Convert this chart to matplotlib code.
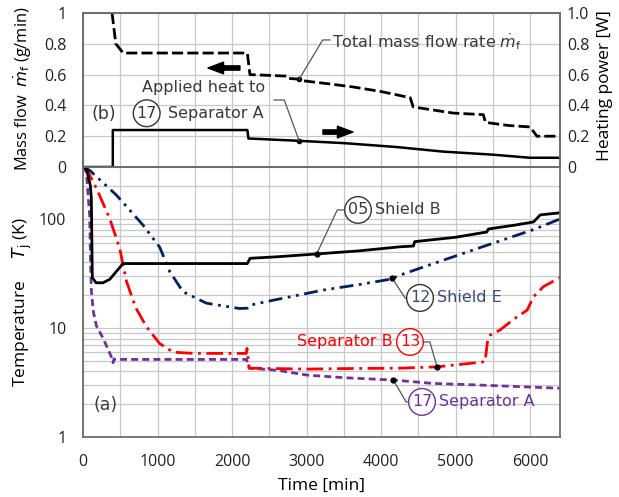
import numpy as np
import matplotlib.pyplot as plt
from matplotlib.ticker import MultipleLocator, FixedLocator, NullFormatter, LogLocator

plt.rcParams['font.family'] = 'DejaVu Sans'

# ---- data ----
# (b) total mass flow rate [g/min]
t_flow = [390, 440, 540, 2205, 2240, 2740, 2760, 2910, 2950, 3300, 3620, 4000, 4390, 4430,
          4700, 4970, 5370, 5400, 5700, 6000, 6090, 6400]
flow = [1.0, 0.80, 0.74, 0.74, 0.60, 0.59, 0.575, 0.57, 0.56, 0.54, 0.52, 0.49, 0.45, 0.39,
        0.37, 0.35, 0.34, 0.29, 0.27, 0.26, 0.20, 0.20]

# (b) heating power applied to separator A [W]
t_heat = [0, 400, 400, 2205, 2220, 2900, 3500, 4200, 4830, 5500, 6000, 6400]
heat = [0, 0, 0.24, 0.24, 0.185, 0.17, 0.155, 0.13, 0.10, 0.08, 0.06, 0.06]

# (a) temperatures [K]
t_05 = [0, 45, 98, 112, 125, 175, 268, 360, 447, 537, 2205, 2241, 2600, 3136, 3700, 4255,
        4434, 4450, 5000, 5418, 5440, 5800, 6045, 6134, 6400]
T_05 = [300, 290, 204, 154, 29, 26, 26, 28, 33, 39, 39, 43.6, 45, 47.8, 51, 55.6,
        56.5, 62, 68, 76, 81, 88, 94, 109, 114]

t_12 = [0, 89, 447, 805, 1030, 1163, 1342, 1655, 2100, 2205, 2241, 2555, 3226, 3700, 4121,
        4255, 4702, 5373, 6045, 6400]
T_12 = [300, 280, 166, 88, 55, 33, 21.5, 16.9, 15.1, 15.2, 16.2, 18, 22.3, 25, 28,
        30.6, 39, 56, 80, 100]

t_13 = [0, 45, 179, 358, 492, 582, 671, 716, 850, 1029, 1208, 1477, 2192, 2200, 2230, 3000,
        3600, 4255, 4748, 5396, 5410, 5430, 5463, 5597, 5776, 5960, 6045, 6179, 6400]
T_13 = [300, 290, 192, 101, 54, 27, 18, 15, 10.3, 7.2, 6.0, 5.85, 5.85, 6.5, 4.28, 4.2,
        4.25, 4.28, 4.4, 4.9, 6.0, 7.8, 8.6, 9.6, 12, 14.6, 19.4, 24, 29]

t_17 = [0, 45, 89, 100, 112, 140, 179, 268, 380, 403, 415, 440, 2192, 2230, 2600, 3003,
        3500, 4165, 4702, 5300, 6400]
T_17 = [300, 270, 108, 45, 22, 14, 10.5, 8.1, 5.45, 4.8, 5.2, 5.15, 5.15, 4.28, 4.1, 3.7,
        3.5, 3.33, 3.1, 3.0, 2.8]

navy = '#002060'
red = '#ff0000'
purple = '#7030a0'
grid_c = '#c8c8c8'
spine_c = '#6e6e6e'
txt_c = '#3a3a3a'

fig = plt.figure(figsize=(6.19, 4.97), dpi=100)
x0, x1 = 83 / 619, 560 / 619
ax_b = fig.add_axes([x0, 1 - 167 / 497, x1 - x0, (167 - 13) / 497])
ax_a = fig.add_axes([x0, 1 - 437 / 497, x1 - x0, (437 - 167) / 497])
ax_q = ax_b.twinx()

for ax in (ax_a, ax_b, ax_q):
    ax.set_xlim(0, 6400)
    ax.xaxis.set_major_locator(MultipleLocator(1000))
    ax.xaxis.set_minor_locator(MultipleLocator(500))
    ax.tick_params(which='both', length=0, labelsize=11.5, labelfontfamily='Open Sans',
                   labelcolor='#222222')
    for s in ax.spines.values():
        s.set_color(spine_c)
        s.set_linewidth(1.3)
for ax in (ax_a, ax_b):
    ax.grid(True, which='both', axis='x', color=grid_c, lw=0.9)
    ax.set_axisbelow(True)

# ---- (b) mass flow and heating power ----
ax_b.set_ylim(0, 1)
ax_b.set_yticks([0, 0.2, 0.4, 0.6, 0.8, 1.0])
ax_b.set_yticklabels(['0', '0.2', '0.4', '0.6', '0.8', '1'])
ax_b.grid(True, axis='y', color=grid_c, lw=0.9)
ax_b.tick_params(axis='x', labelbottom=False)
ax_b.tick_params(axis='y', pad=12)
ax_b.plot(t_flow, flow, color='black', lw=2, ls=(0, (4, 1.5)))

ax_q.set_ylim(0, 1)
ax_q.set_yticks([0, 0.2, 0.4, 0.6, 0.8, 1.0])
ax_q.set_yticklabels(['0', '0.2', '0.4', '0.6', '0.8', '1.0'])
ax_q.tick_params(axis='y', pad=5)
ax_q.plot(t_heat, heat, color='black', lw=1.8)

ax_b.set_ylabel(r'Mass flow  $\dot{m}_\mathrm{f}$ (g/min)', fontsize=11.8, family='Open Sans')
ax_b.yaxis.set_label_coords(-0.103, 0.51)
ax_q.set_ylabel('Heating power [W]', fontsize=12.5, family='Open Sans', rotation=90)
ax_q.yaxis.set_label_coords(1.078, 0.53)

ax_b.text(0.044, 0.344, '(b)', transform=ax_b.transAxes, fontsize=12.5,
          ha='center', va='center', color=txt_c)
ax_q.text(0.124, 0.513, 'Applied heat to', transform=ax_q.transAxes, fontsize=11.5,
          ha='left', va='center', color=txt_c)
ax_q.text(0.1335, 0.349, '17', transform=ax_q.transAxes, fontsize=11.5, ha='center',
          va='center', color=txt_c,
          bbox=dict(boxstyle='circle,pad=0.2', fc='white', ec='#333333', lw=1))
ax_q.text(0.178, 0.349, 'Separator A', transform=ax_q.transAxes, fontsize=11.5,
          ha='left', va='center', color=txt_c)
ax_q.text(0.522, 0.815, r'Total mass flow rate $\dot{m}_\mathrm{f}$', transform=ax_q.transAxes,
          fontsize=11.5, ha='left', va='center', color=txt_c)

# leaders in the top panel
t_pt = 2900
q_pt = np.interp(t_pt, t_heat, heat)
f_pt = np.interp(t_pt, t_flow, flow)
ax_q.plot([t_pt], [q_pt], 'o', color='black', ms=3)
ax_q.plot([t_pt], [f_pt], 'o', color='black', ms=3)
ax_q.annotate('', xy=(t_pt, q_pt), xycoords='data', xytext=(0.40, 0.435),
              textcoords='axes fraction',
              arrowprops=dict(arrowstyle='-', color='#555555', lw=0.9, shrinkA=0, shrinkB=0,
                              connectionstyle='angle,angleA=0,angleB=110,rad=0'))
ax_q.annotate('', xy=(t_pt, f_pt), xycoords='data', xytext=(0.518, 0.825),
              textcoords='axes fraction',
              arrowprops=dict(arrowstyle='-', color='#555555', lw=0.9, shrinkA=0, shrinkB=0,
                              connectionstyle='angle,angleA=0,angleB=59,rad=0'))

# direction arrows
arrow_style = 'simple,head_length=0.8,head_width=0.6,tail_width=0.22'
ax_q.annotate('', xy=(0.262, 0.643), xytext=(0.329, 0.643), xycoords='axes fraction',
              arrowprops=dict(arrowstyle=arrow_style, fc='black', ec='black',
                              mutation_scale=14, shrinkA=0, shrinkB=0))
ax_q.annotate('', xy=(0.566, 0.227), xytext=(0.503, 0.227), xycoords='axes fraction',
              arrowprops=dict(arrowstyle=arrow_style, fc='black', ec='black',
                              mutation_scale=14, shrinkA=0, shrinkB=0))

# ---- (a) temperatures ----
ax_a.set_yscale('log')
ax_a.set_ylim(1, 300)
ax_a.yaxis.set_major_locator(FixedLocator([1, 10, 100]))
ax_a.set_yticklabels(['1', '10', '100'])
ax_a.yaxis.set_minor_locator(LogLocator(base=10, subs=np.arange(2, 10)))
ax_a.yaxis.set_minor_formatter(NullFormatter())
ax_a.grid(True, which='both', axis='y', color=grid_c, lw=0.9)
ax_a.tick_params(axis='y', which='both', pad=12)
ax_a.tick_params(axis='x', pad=12)

ax_a.plot(t_17, T_17, color=purple, lw=2, ls=(0, (2.5, 1.5)))
ax_a.plot(t_13, T_13, color=red, lw=2, ls=(0, (6, 2, 1, 2)))
ax_a.plot(t_12, T_12, color=navy, lw=2, ls=(0, (5, 2, 1, 2, 1, 2)))
ax_a.plot(t_05, T_05, color='black', lw=2)

ax_a.set_xlabel('Time [min]', fontsize=12.5, family='Open Sans')
ax_a.xaxis.set_label_coords(0.5, -0.153)
ax_a.set_ylabel(r'Temperature     $T_\mathrm{j}$ (K)', fontsize=12.5, family='Open Sans')
ax_a.yaxis.set_label_coords(-0.103, 0.5)

ax_a.text(0.048, 0.119, '(a)', transform=ax_a.transAxes, fontsize=12.5,
          ha='center', va='center', color=txt_c)


def callout(num, label, t, times, vals, pos, angle_b, ec, tc, label_left=False):
    y = np.interp(t, times, vals)
    ax_a.plot([t], [y], 'o', color='black', ms=3.5, zorder=5)
    ax_a.annotate(num, xy=(t, y), xycoords='data', xytext=pos, textcoords='axes fraction',
                  fontsize=11.5, ha='center', va='center', color=tc,
                  bbox=dict(boxstyle='circle,pad=0.2', fc='white', ec=ec, lw=1),
                  arrowprops=dict(arrowstyle='-', color='#555555', lw=0.9, shrinkA=0,
                                  shrinkB=0,
                                  connectionstyle='angle,angleA=0,angleB=%g,rad=0' % angle_b))
    if label_left:
        ax_a.text(pos[0] - 0.036, pos[1], label, transform=ax_a.transAxes, fontsize=11.5,
                  ha='right', va='center', color=tc)
    else:
        ax_a.text(pos[0] + 0.036, pos[1], label, transform=ax_a.transAxes, fontsize=11.5,
                  ha='left', va='center', color=tc)


callout('05', 'Shield B', 3136, t_05, T_05, (0.5765, 0.841), 65, '#333333', txt_c)
callout('12', 'Shield E', 4150, t_12, T_12, (0.7065, 0.515), -57, '#333333', '#3b4a78')
callout('13', 'Separator B', 4750, t_13, T_13, (0.6855, 0.352), 106, red, red,
        label_left=True)
callout('17', 'Separator A', 4165, t_17, T_17, (0.7107, 0.130), -60, purple, purple)

fig.savefig('out.png', dpi=100)
